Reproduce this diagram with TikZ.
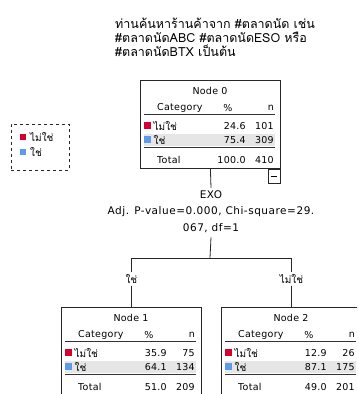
\documentclass[tikz,border=0pt]{standalone}
\usepackage{fontspec}
\setmainfont{DejaVu Sans}[LetterSpace=3]
\newfontfamily\splitfont{DejaVu Sans}[LetterSpace=5]
\newfontfamily\thaifont[Script=Thai]{Loma}
\definecolor{catred}{HTML}{D70032}
\definecolor{catblue}{HTML}{5B9BE8}
\definecolor{rowgray}{HTML}{E6E6E6}
\tikzset{
  x=1pt, y=-1pt,
  lbl/.style={inner sep=0pt, font=\fontsize{9.5}{11}\selectfont},
  splitlbl/.style={inner sep=0pt, font=\splitfont\fontsize{10.5}{12}\selectfont},
  thlbl/.style={inner sep=0pt, font=\thaifont\fontsize{10}{11}\selectfont},
  thtitle/.style={inner sep=0pt, font=\thaifont\fontsize{12.5}{14}\selectfont},
  boxframe/.style={draw=black!85, line width=0.8pt},
  rulethin/.style={draw=black!80, line width=0.7pt},
  rulethick/.style={draw=black!80, line width=1.2pt},
  swatch/.style={minimum size=6.5pt, inner sep=0pt},
  branch/.style={draw=black!85, line width=0.8pt},
}
% one node of the tree: name, top-left x, top-left y, title, then % and n for both categories and the total %
\newcommand\treetable[9]{%
  \begin{scope}[shift={(#2,#3)}]
    \node[boxframe, minimum width=140pt, minimum height=88pt, anchor=north west, inner sep=0pt] (#1) at (0,0) {};
    \fill[rowgray] (4,53.5) rectangle (135,66);
    \node[lbl] (#1-title) at (70,11) {#4};
    \node[lbl, anchor=west] (#1-cat) at (17,28) {Category};
    \node[lbl] (#1-pcthead) at (88,28) {\%};
    \node[lbl, anchor=east] (#1-nhead) at (134,28) {n};
    \draw[rulethin] (4,34.5) -- (135,34.5);
    \node[swatch, fill=catred] (#1-sw1) at (7.5,45.5) {};
    \node[thlbl, anchor=west] (#1-c1) at (13.5,46) {ไม่ใช่};
    \node[lbl, anchor=east] (#1-p1) at (106,46) {#5};
    \node[lbl, anchor=east] (#1-n1) at (134,46) {#6};
    \node[swatch, fill=catblue] (#1-sw2) at (7.5,59.5) {};
    \node[thlbl, anchor=west] (#1-c2) at (13.5,60) {ใช่};
    \node[lbl, anchor=east] (#1-p2) at (106,60) {#7};
    \node[lbl, anchor=east] (#1-n2) at (134,60) {#8};
    \draw[rulethick] (4,67.5) -- (135,67.5);
    \node[lbl, anchor=west] (#1-tot) at (17,80) {Total};
    \node[lbl, anchor=east] (#1-ptot) at (106,80) {#9};
  \end{scope}}
\begin{document}
\begin{tikzpicture}
\useasboundingbox (0,0) rectangle (357,394);
\clip (0,0) rectangle (357,394);
\fill[white] (0,0) rectangle (357,394);

% question text
\node[thtitle, anchor=west] (q1) at (115,23) {ท่านค้นหาร้านค้าจาก \#ตลาดนัด เช่น};
\node[thtitle, anchor=west] (q2) at (115,37) {\#ตลาดนัดABC \#ตลาดนัดESO หรือ};
\node[thtitle, anchor=west] (q3) at (115,51) {\#ตลาดนัดBTX เป็นต้น};

% legend
\node[draw=black!85, dashed, line width=0.8pt, minimum width=58pt, minimum height=46pt, inner sep=0pt] (legend) at (40,147) {};
\node[swatch, fill=catred] (lg-sw1) at (23,137) {};
\node[thlbl, anchor=west] (lg-c1) at (30,137.5) {ไม่ใช่};
\node[swatch, fill=catblue] (lg-sw2) at (23,152) {};
\node[thlbl, anchor=west] (lg-c2) at (30,152.5) {ใช่};

% tree nodes
\treetable{n0}{140}{80}{Node 0}{24.6}{101}{75.4}{309}{100.0}
\node[lbl, anchor=east] (n0-ntot) at (274,160) {410};
\treetable{n1}{61}{307}{Node 1}{35.9}{75}{64.1}{134}{51.0}
\node[lbl, anchor=east] (n1-ntot) at (195,387) {209};
\treetable{n2}{221}{307}{Node 2}{12.9}{26}{87.1}{175}{49.0}
\node[lbl, anchor=east] (n2-ntot) at (355,387) {201};

% collapse toggle under Node 0
\node[boxframe, minimum width=12pt, minimum height=14pt, inner sep=0pt, anchor=north east] (toggle) at (n0.south east) {};
\draw[line width=0.8pt] ([xshift=-3pt]toggle.center) -- ([xshift=3pt]toggle.center);

% split description
\node[splitlbl] (split) at (211,195) {EXO};
\node[splitlbl] (stat1) at (211,212) {Adj. P-value=0.000, Chi-square=29.};
\node[splitlbl] (stat2) at (211,228.5) {067, df=1};

% branches
\coordinate (fork) at (210,258);
\coordinate (forkL) at (n1.north |- fork);
\coordinate (forkR) at (n2.north |- fork);
\node[thlbl] (bl) at (n1.north |- 0,279) {ใช่};
\node[thlbl] (br) at (n2.north |- 0,279) {ไม่ใช่};
\draw[branch] (n0.south) -- ([yshift=3pt]split.north);
\draw[branch] ([yshift=-4pt]stat2.south) -- (fork);
\draw[branch] (forkL) -- (forkR);
\draw[branch] (forkL) -- ([yshift=2pt]bl.north);
\draw[branch] ([yshift=-2pt]bl.south) -- (n1.north);
\draw[branch] (forkR) -- ([yshift=2pt]br.north);
\draw[branch] ([yshift=-2pt]br.south) -- (n2.north);
\end{tikzpicture}
\end{document}
